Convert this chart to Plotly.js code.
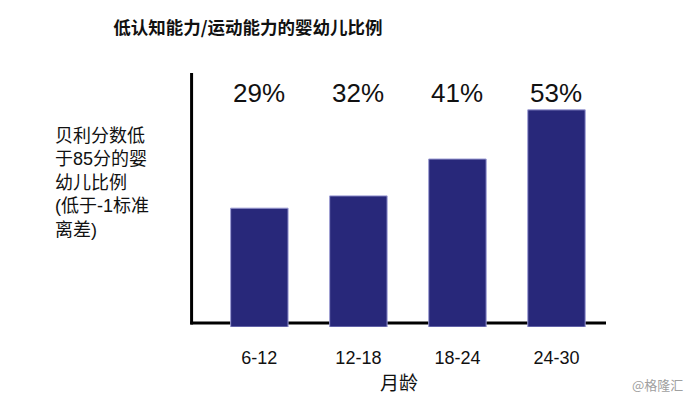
<!DOCTYPE html>
<html>
<head>
<meta charset="utf-8">
<script src="https://cdn.plot.ly/plotly-3.0.1.min.js"></script>
<style>html,body{margin:0;padding:0;background:#fff;}#chart{width:692px;height:398px;}</style>
</head>
<body>
<div id="chart"></div>
<script>
const categories = ["6-12", "12-18", "18-24", "24-30"];
const values = [29, 32, 41, 53];
const titleText = "低认知能力/运动能力的婴幼儿比例";
const yLabelLines = ["贝利分数低", "于85分的婴", "幼儿比例", "(低于-1标准", "离差)"];
const xTitleText = "月龄";
const watermark = "@格隆汇";

const latin = "Liberation Sans, Arial, Noto Sans CJK SC, sans-serif";
const cjk = "Noto Sans CJK SC, Liberation Sans, sans-serif";

const trace = {
  type: "bar",
  x: categories,
  y: values,
  marker: { color: "#28287a", line: { color: "#9c9cd4", width: 1 } },
  width: 0.58,
  hoverinfo: "skip"
};

const annotations = values.map((v, i) => ({
  x: categories[i], xref: "x",
  y: 0.928, yref: "paper",
  text: v + "%",
  showarrow: false,
  xanchor: "center", yanchor: "middle",
  font: { family: latin, size: 26, color: "#111" }
}));

annotations.push({
  x: -0.336, xref: "paper", y: 0.571, yref: "paper",
  text: yLabelLines.join("<br>"),
  showarrow: false, align: "left",
  xanchor: "left", yanchor: "middle",
  font: { family: latin, size: 18, color: "#111" }
});

annotations.push({
  x: 685, xref: "paper", y: 385, yref: "paper",
  text: watermark, showarrow: false
});
annotations[annotations.length - 1] = {
  x: 1.19, xref: "paper", y: -0.23, yref: "paper",
  text: watermark, showarrow: false,
  xanchor: "right", yanchor: "middle",
  font: { family: cjk, size: 13, color: "#a0a0a0" }
};

const layout = {
  width: 692, height: 398,
  margin: { l: 192, r: 86, t: 75, b: 71, pad: 0 },
  paper_bgcolor: "#fff", plot_bgcolor: "#fff",
  showlegend: false,
  title: {
    text: titleText,
    x: 0.135, xref: "paper", xanchor: "center",
    y: 0.93, yref: "container", yanchor: "middle",
    font: { family: cjk, size: 17.5, color: "#111", weight: "bold" }
  },
  xaxis: {
    type: "category",
    range: [-0.68, 3.5],
    showline: false, showgrid: false, zeroline: false,
    ticks: "",
    ticklabelstandoff: 18,
    tickfont: { family: latin, size: 18, color: "#111" },
    title: { text: xTitleText, standoff: 4, font: { family: cjk, size: 19, color: "#111" } },
    fixedrange: true
  },
  yaxis: {
    range: [0, 61.5],
    showline: false, showgrid: false, zeroline: false,
    showticklabels: false, ticks: "",
    fixedrange: true
  },
  shapes: [
    { type: "line", xref: "paper", yref: "paper", x0: -0.001, x1: -0.001, y0: 0.01, y1: 1.008,
      line: { color: "#000", width: 3 }, layer: "below" },
    { type: "line", xref: "paper", yref: "paper", x0: -0.004, x1: 1.0, y0: 0.0155, y1: 0.0155,
      line: { color: "#000", width: 3 }, layer: "below" }
  ],
  annotations: annotations,
  bargap: 0.42
};

Plotly.newPlot("chart", [trace], layout, { displayModeBar: false, staticPlot: true });
</script>
</body>
</html>
